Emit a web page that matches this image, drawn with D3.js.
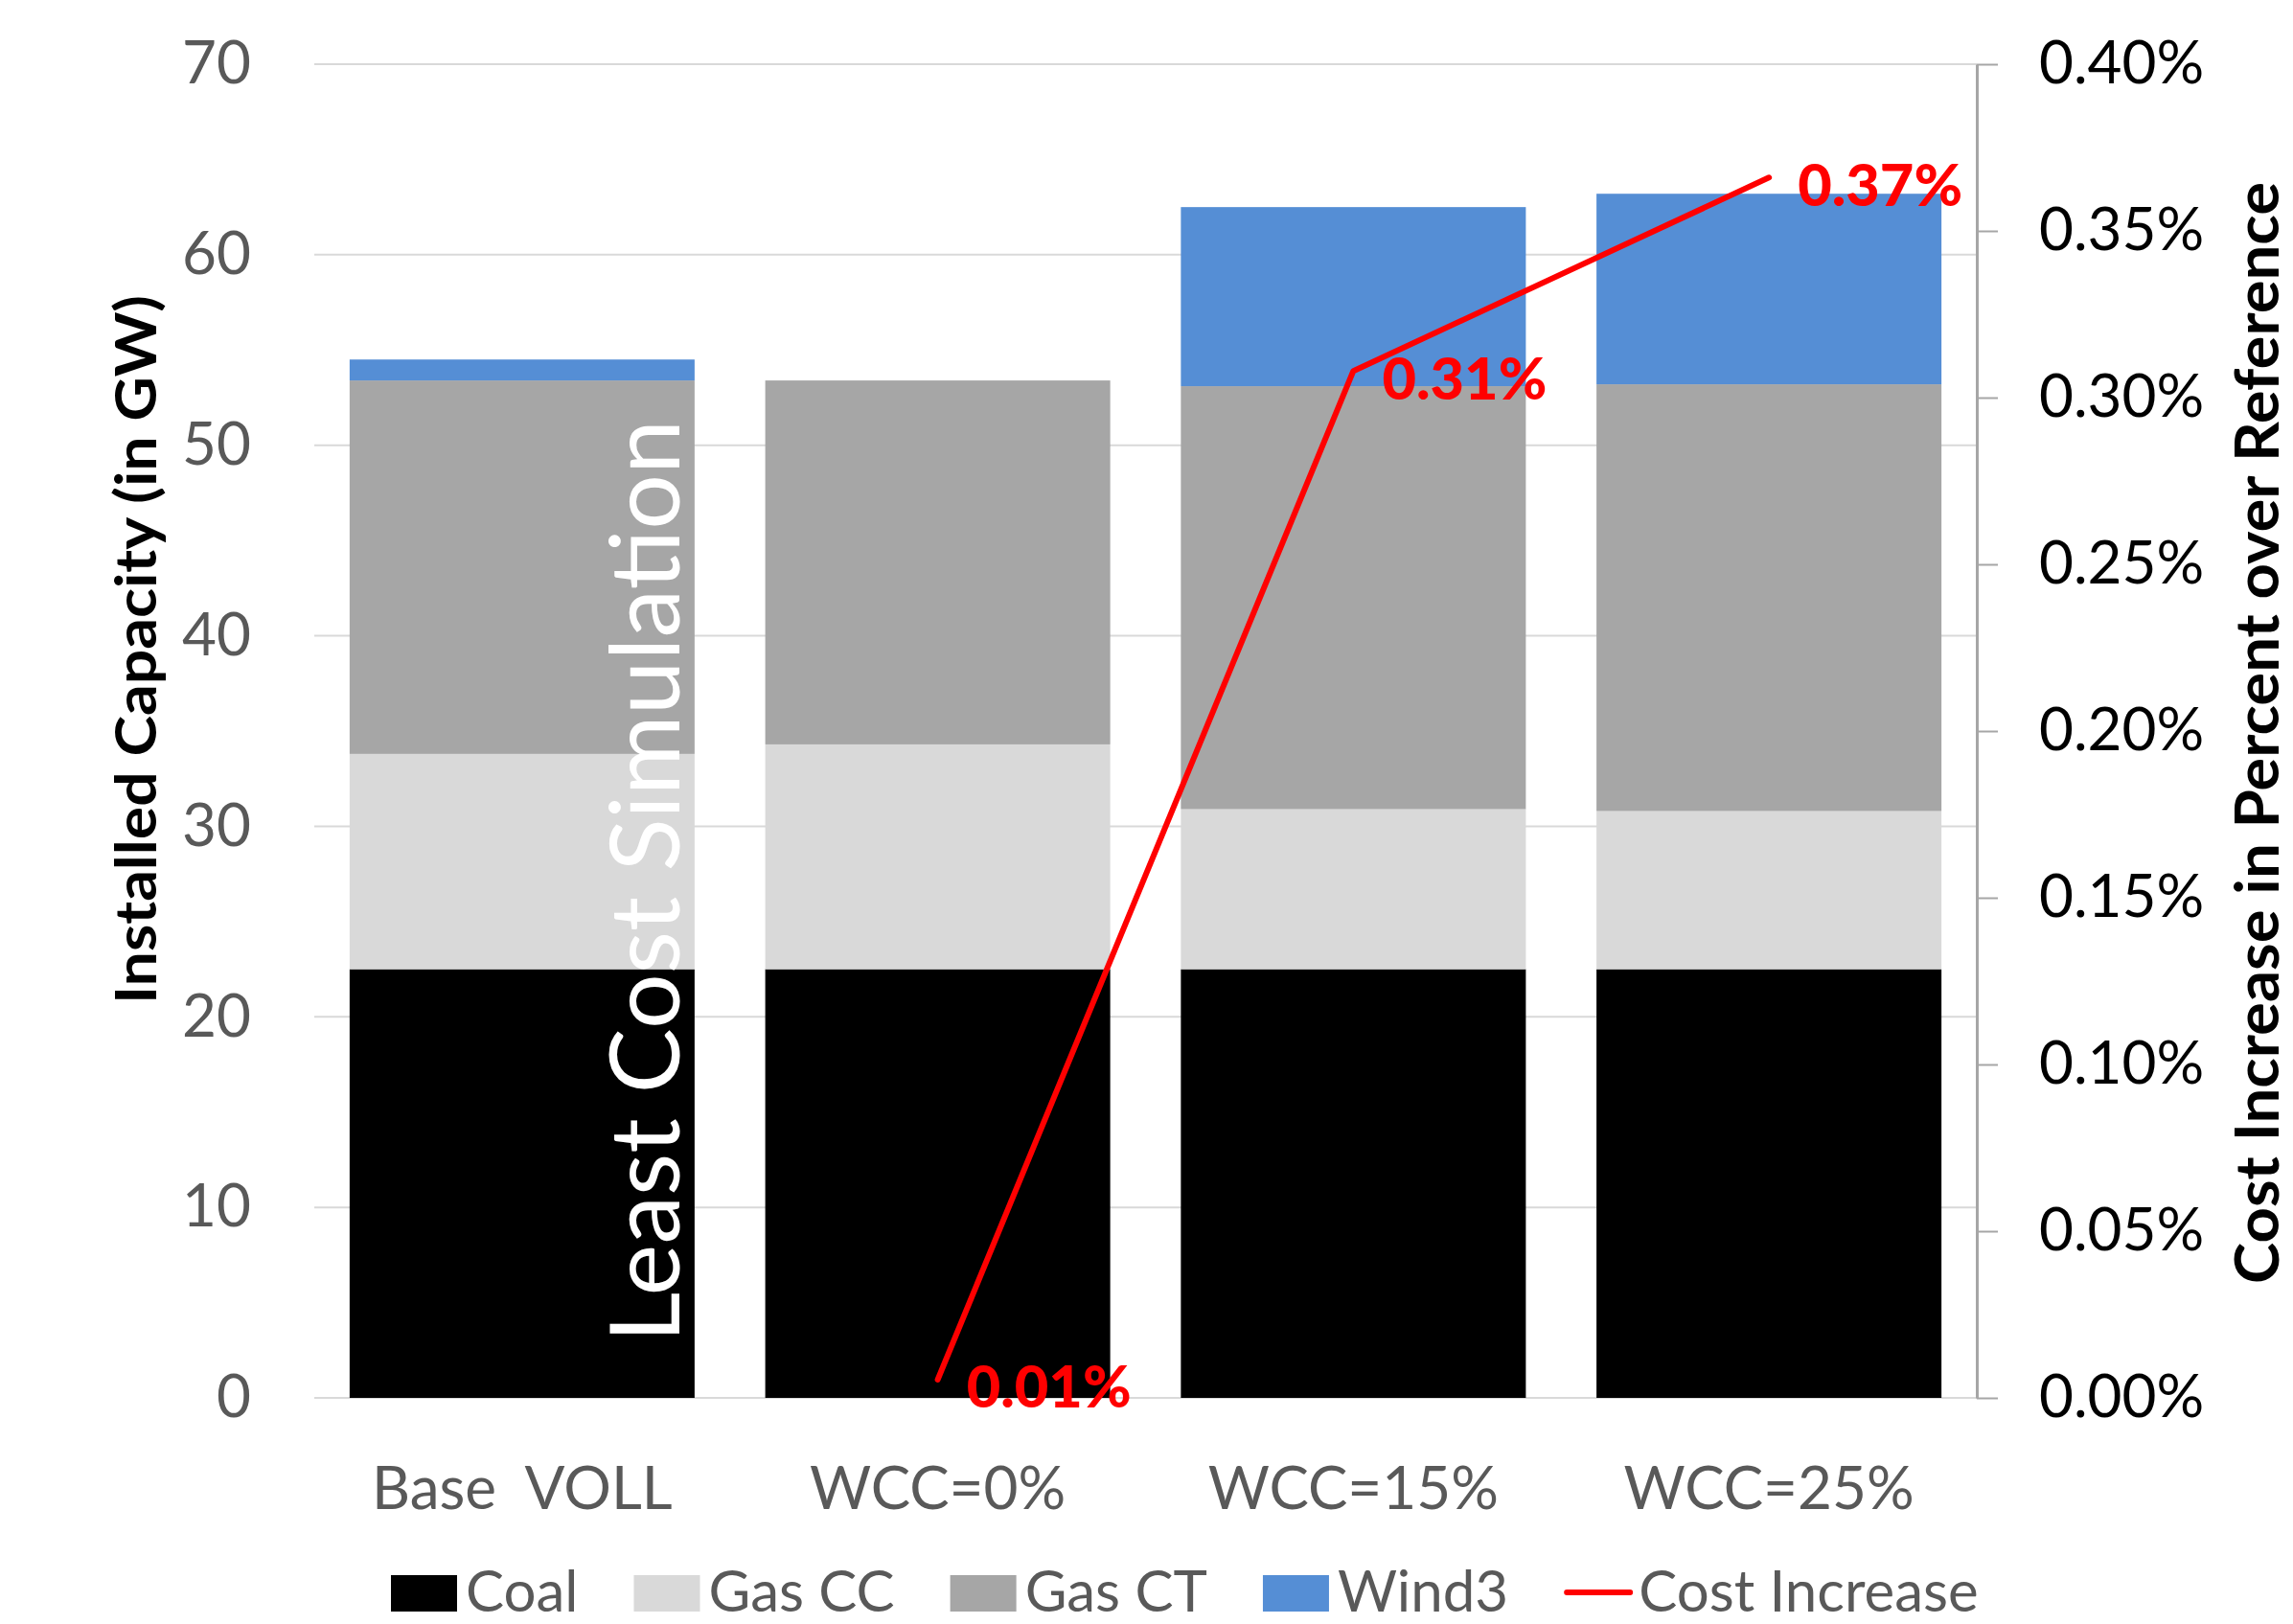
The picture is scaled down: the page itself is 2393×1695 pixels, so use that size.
<!DOCTYPE html>
<html>
<head>
<meta charset="utf-8">
<script src="https://cdn.jsdelivr.net/npm/d3@7"></script>
<style>
  html, body { margin: 0; padding: 0; background: #ffffff; }
  svg { display: block; font-family: Lato, "Liberation Sans", sans-serif; }
</style>
</head>
<body>
<svg id="chart" width="2393" height="1695"></svg>
<script>
// Installed capacity by scenario (GW), stacked bottom to top
const categories = ["Base  VOLL", "WCC=0%", "WCC=15%", "WCC=25%"];
const coal  = [22.5, 22.5, 22.5, 22.5];
const gasCC = [11.3, 11.8, 8.4, 8.3];
const gasCT = [19.6, 19.1, 22.2, 22.4];
const wind3 = [1.1, 0.0, 9.4, 10.0];

// Cost increase over reference (percent); no value for the base case
const costIncrease = [null, 0.0055, 0.308, 0.366];

const seriesNames = ["Coal", "Gas CC", "Gas CT", "Wind3"];
const seriesColors = ["#000000", "#D9D9D9", "#A6A6A6", "#558ED5"];
const lineName = "Cost Increase";
const lineColor = "#FF0000";

const leftTicks = [0, 10, 20, 30, 40, 50, 60, 70];
const rightTicks = [0, 0.05, 0.10, 0.15, 0.20, 0.25, 0.30, 0.35, 0.40];

const leftTitle = "Installed Capacity (in GW)";
const rightTitle = "Cost Increase in Percent over Reference";
const annotation = "Least Cost Simulation";

// ---- layout ----
const plot = { left: 328, right: 2063, top: 67, bottom: 1459 };
const svg = d3.select("#chart");

const x = d3.scaleBand()
  .domain(categories)
  .range([plot.left, plot.right])
  .paddingInner(0.17)
  .paddingOuter(0.085);

const y = d3.scaleLinear().domain([0, 70]).range([plot.bottom, plot.top]);
const y2 = d3.scaleLinear().domain([0, 0.40]).range([plot.bottom, plot.top]);

// gridlines
svg.append("g").attr("class", "grid")
  .selectAll("line").data(leftTicks).join("line")
  .attr("x1", plot.left).attr("x2", plot.right)
  .attr("y1", d => y(d)).attr("y2", d => y(d))
  .attr("stroke", "#D9D9D9").attr("stroke-width", 2);

// stacked bars
const rows = categories.map((c, i) => ({
  category: c, "Coal": coal[i], "Gas CC": gasCC[i], "Gas CT": gasCT[i], "Wind3": wind3[i]
}));
const stacked = d3.stack().keys(seriesNames)(rows);

svg.append("g").attr("class", "bars")
  .selectAll("g").data(stacked).join("g")
  .attr("fill", (d, i) => seriesColors[i])
  .selectAll("rect").data(d => d.filter(s => s[1] - s[0] > 0)).join("rect")
  .attr("x", d => x(d.data.category))
  .attr("width", x.bandwidth())
  .attr("y", d => y(d[1]))
  .attr("height", d => y(d[0]) - y(d[1]));

// left axis (labels only)
const leftAxis = svg.append("g")
  .attr("transform", `translate(${plot.left},0)`)
  .call(d3.axisLeft(y).tickValues(leftTicks).tickSize(0).tickPadding(66));
leftAxis.select(".domain").remove();
leftAxis.selectAll("text")
  .attr("font-size", 62).attr("fill", "#595959").attr("font-family", "Lato, sans-serif");

// right axis
const rightAxis = svg.append("g")
  .attr("transform", `translate(${plot.right},0)`)
  .call(d3.axisRight(y2).tickValues(rightTicks).tickSize(22).tickSizeOuter(0)
    .tickPadding(43).tickFormat(d => d.toFixed(2) + "%"));
rightAxis.select(".domain").attr("stroke", "#A6A6A6").attr("stroke-width", 3);
rightAxis.selectAll(".tick line").attr("stroke", "#A6A6A6").attr("stroke-width", 2);
rightAxis.selectAll("text")
  .attr("font-size", 62).attr("fill", "#000000").attr("font-family", "Lato, sans-serif");

// category axis
const bottomAxis = svg.append("g")
  .attr("transform", `translate(0,${plot.bottom})`)
  .call(d3.axisBottom(x).tickSize(0));
bottomAxis.select(".domain").remove();
bottomAxis.selectAll("text")
  .attr("y", 116).attr("dy", 0)
  .attr("font-size", 62).attr("fill", "#595959").attr("font-family", "Lato, sans-serif")
  .style("white-space", "pre");

// annotation inside the first bar
const annX = x(categories[0]) + x.bandwidth() - 16;
const annY = y(0) - 58;
svg.append("text")
  .attr("transform", `translate(${annX},${annY}) rotate(-90)`)
  .attr("text-anchor", "start")
  .attr("font-size", 101).attr("fill", "#FFFFFF")
  .attr("textLength", 963).attr("lengthAdjust", "spacingAndGlyphs")
  .text(annotation);

// cost increase line
const linePts = categories.map((c, i) => ({ c, v: costIncrease[i] })).filter(d => d.v !== null);
const line = d3.line()
  .x(d => x(d.c) + x.bandwidth() / 2)
  .y(d => y2(d.v));
svg.append("path")
  .datum(linePts)
  .attr("d", line)
  .attr("fill", "none").attr("stroke", lineColor)
  .attr("stroke-width", 6).attr("stroke-linejoin", "round").attr("stroke-linecap", "round");

// value labels
svg.append("g").selectAll("text").data(linePts).join("text")
  .attr("x", d => x(d.c) + x.bandwidth() / 2 + 30)
  .attr("y", d => y2(d.v) + 6)
  .attr("dominant-baseline", "central")
  .attr("font-size", 61).attr("font-weight", 900).attr("fill", lineColor)
  .attr("textLength", 172).attr("lengthAdjust", "spacingAndGlyphs")
  .text(d => d.v.toFixed(2) + "%");

// axis titles
svg.append("text")
  .attr("transform", `translate(163,${(plot.top + plot.bottom) / 2 - 85}) rotate(-90)`)
  .attr("text-anchor", "middle")
  .attr("font-size", 60).attr("font-weight", "bold").attr("fill", "#000000")
  .attr("textLength", 740).attr("lengthAdjust", "spacingAndGlyphs")
  .text(leftTitle);

svg.append("text")
  .attr("transform", `translate(2378,${(plot.top + plot.bottom) / 2 + 2}) rotate(-90)`)
  .attr("text-anchor", "middle")
  .attr("font-size", 63).attr("font-weight", "bold").attr("fill", "#000000")
  .attr("textLength", 1150).attr("lengthAdjust", "spacingAndGlyphs")
  .text(rightTitle);

// legend
const legend = svg.append("g").attr("class", "legend");
const legendItems = seriesNames.map((n, i) => ({ name: n, color: seriesColors[i], type: "rect" }))
  .concat([{ name: lineName, color: lineColor, type: "line" }]);
let cursor = 408;
const swatchW = 69, swatchH = 38, baseline = 1682;
legendItems.forEach(item => {
  const g = legend.append("g");
  if (item.type === "rect") {
    g.append("rect").attr("x", cursor).attr("y", baseline - swatchH)
      .attr("width", swatchW).attr("height", swatchH).attr("fill", item.color);
  } else {
    g.append("line").attr("x1", cursor + 3).attr("x2", cursor + swatchW)
      .attr("y1", baseline - 20).attr("y2", baseline - 20)
      .attr("stroke", item.color).attr("stroke-width", 6).attr("stroke-linecap", "round");
  }
  const t = g.append("text").attr("x", cursor + swatchW + 9).attr("y", baseline)
    .attr("font-size", 60).attr("fill", "#595959").text(item.name);
  cursor += swatchW + 9 + t.node().getComputedTextLength() + 58;
});
</script>
</body>
</html>
